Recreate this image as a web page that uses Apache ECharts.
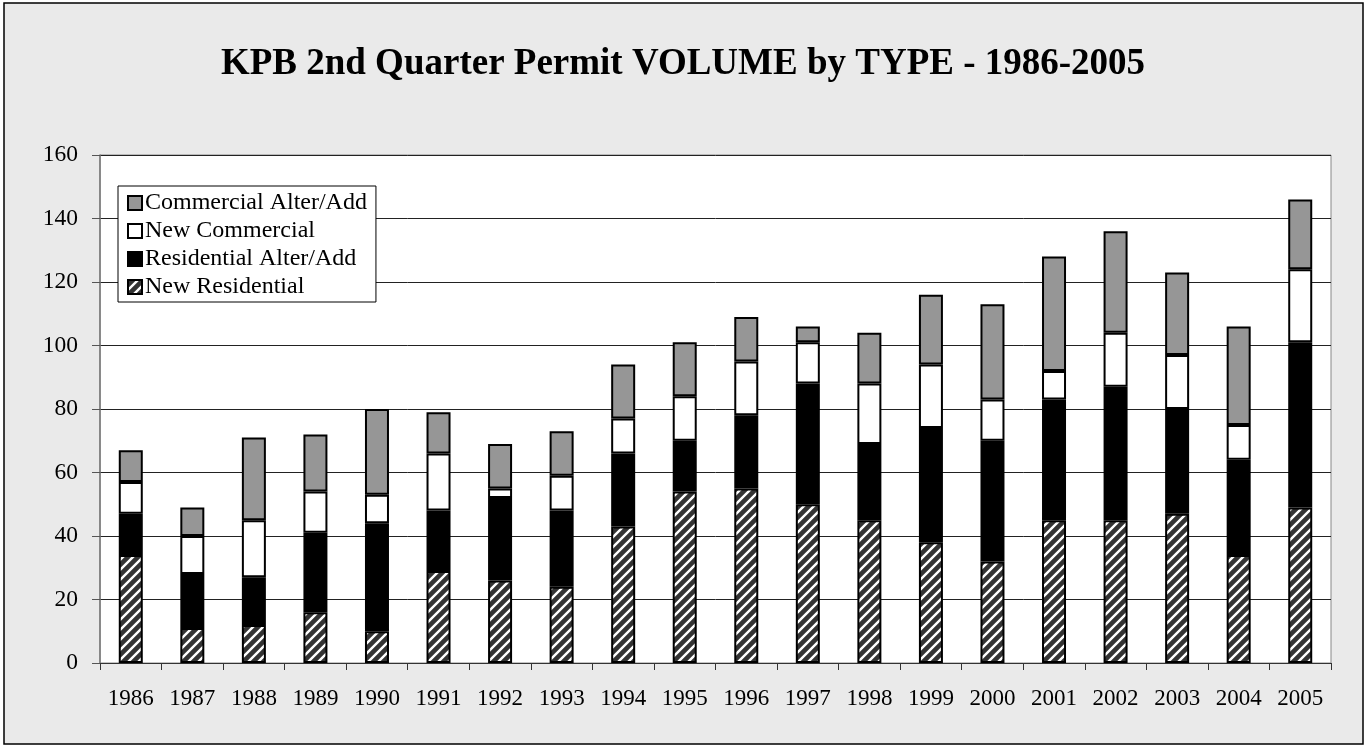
<!DOCTYPE html>
<html>
<head>
<meta charset="utf-8">
<script src="https://cdn.jsdelivr.net/npm/echarts@6/dist/echarts.min.js"></script>
<style>
  html, body { margin: 0; padding: 0; background: #fff; }
  #chart { width: 1366px; height: 747px; }
</style>
</head>
<body>
<div id="chart"></div>
<script>
var years = ['1986', '1987', '1988', '1989', '1990', '1991', '1992', '1993', '1994', '1995',
             '1996', '1997', '1998', '1999', '2000', '2001', '2002', '2003', '2004', '2005'];
var newResidential   = [34, 11, 12, 16, 10, 29, 26, 24, 43, 54, 55, 50, 45, 38, 32, 45, 45, 47, 34, 49];
var residentialAlter = [13, 17, 15, 25, 34, 19, 26, 24, 23, 16, 23, 38, 24, 36, 38, 38, 42, 33, 30, 52];
var newCommercial    = [10, 12, 18, 13,  9, 18,  3, 11, 11, 14, 17, 13, 19, 20, 13,  9, 17, 17, 11, 23];
var commercialAlter  = [10,  9, 26, 18, 27, 13, 14, 14, 17, 17, 14,  5, 16, 22, 30, 36, 32, 26, 31, 22];

var serif = '"Liberation Serif", "Times New Roman", serif';

// diagonal hatch for new residential
function makeHatch() {
    var c = document.createElement('canvas');
    c.width = 10;
    c.height = 10;
    var ctx = c.getContext('2d');
    ctx.fillStyle = '#333333';
    ctx.fillRect(0, 0, 10, 10);
    ctx.strokeStyle = '#ffffff';
    ctx.lineWidth = 2.4;
    ctx.beginPath();
    ctx.moveTo(-2, 12); ctx.lineTo(12, -2);
    ctx.moveTo(-7, 7); ctx.lineTo(7, -7);
    ctx.moveTo(3, 17); ctx.lineTo(17, 3);
    ctx.stroke();
    return c;
}

function barSeries(name, data, color) {
    return {
        name: name,
        type: 'bar',
        stack: 'total',
        barWidth: 24,
        data: data,
        itemStyle: { color: color, borderColor: '#000', borderWidth: 2 },
        emphasis: { disabled: true }
    };
}

var myChart = echarts.init(document.getElementById('chart'));

var option = {
    backgroundColor: '#fff',
    animation: false,
    graphic: [{
        type: 'rect',
        z: -10,
        shape: { x: 4, y: 3, width: 1359, height: 741 },
        style: { fill: '#eaeaea', stroke: '#000', lineWidth: 1.5 }
    }],
    title: {
        text: 'KPB 2nd Quarter Permit VOLUME by TYPE - 1986-2005',
        left: 'center',
        top: 41,
        textStyle: { fontFamily: serif, fontSize: 37, fontWeight: 'bold', color: '#000' }
    },
    legend: {
        orient: 'vertical',
        left: 118,
        top: 186,
        padding: [5, 9, 3, 9],
        itemGap: 4,
        itemWidth: 14,
        itemHeight: 14,
        icon: 'rect',
        backgroundColor: '#fff',
        borderColor: '#000',
        borderWidth: 1,
        textStyle: { fontFamily: serif, fontSize: 24, color: '#000', padding: [0, 0, 0, -2] },
        data: ['Commercial Alter/Add', 'New Commercial', 'Residential Alter/Add', 'New Residential']
    },
    grid: {
        left: 100,
        right: 35,
        top: 155,
        bottom: 84,
        show: true,
        backgroundColor: '#fff',
        borderColor: '#888',
        borderWidth: 1
    },
    xAxis: {
        type: 'category',
        data: years,
        axisLine: { lineStyle: { color: '#333', width: 1 } },
        axisTick: { show: true, length: 7, lineStyle: { color: '#333' } },
        axisLabel: { fontFamily: serif, fontSize: 23, color: '#000', margin: 24 }
    },
    yAxis: {
        type: 'value',
        min: 0,
        max: 160,
        interval: 20,
        axisLine: { show: true, lineStyle: { color: '#777', width: 1.5 } },
        axisTick: { show: true, length: 8, lineStyle: { color: '#555' } },
        axisLabel: { fontFamily: serif, fontSize: 23.5, color: '#000', margin: 22 },
        splitLine: { lineStyle: { color: '#222', width: 1 } }
    },
    series: [
        barSeries('New Residential', newResidential, { image: makeHatch(), repeat: 'repeat' }),
        barSeries('Residential Alter/Add', residentialAlter, '#000000'),
        barSeries('New Commercial', newCommercial, '#ffffff'),
        barSeries('Commercial Alter/Add', commercialAlter, '#969696')
    ]
};

myChart.setOption(option, true);
</script>
</body>
</html>
